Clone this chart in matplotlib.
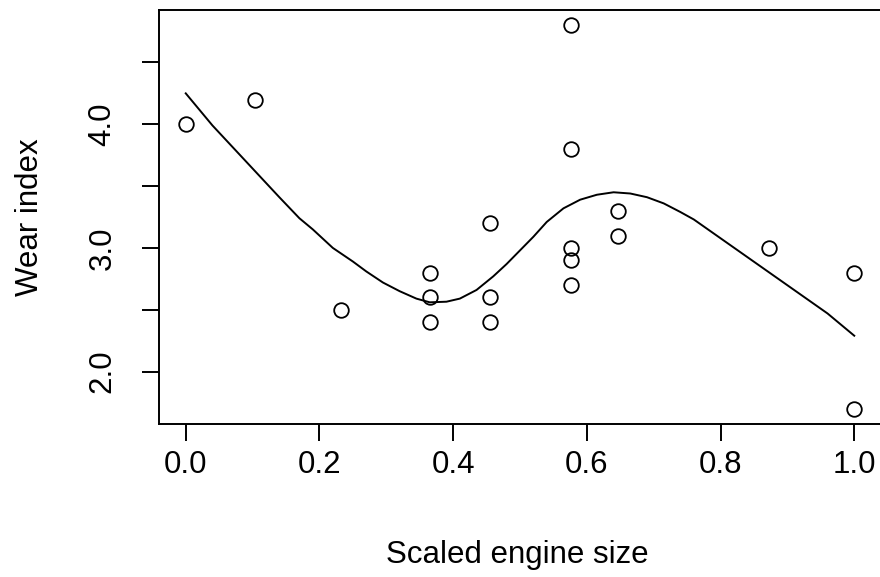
import numpy as np
import matplotlib
matplotlib.use("Agg")
import matplotlib.pyplot as plt

plt.rcParams['font.family'] = ['Liberation Sans', 'DejaVu Sans']

# engine wear observations
engine_size = [0.0, 0.103, 0.232, 0.366, 0.366, 0.366, 0.455, 0.455, 0.455,
               0.577, 0.577, 0.577, 0.577, 0.577, 0.647, 0.647, 0.872, 1.0, 1.0]
wear = [4.0, 4.2, 2.5, 2.8, 2.6, 2.4, 3.2, 2.6, 2.4,
        4.8, 3.8, 3.0, 2.9, 2.7, 3.3, 3.1, 3.0, 2.8, 1.7]

# smooth fitted curve
fit_x = [0.0, 0.04, 0.09, 0.14, 0.17, 0.19, 0.22, 0.25, 0.27, 0.295, 0.32,
         0.345, 0.365, 0.39, 0.41, 0.435, 0.46, 0.48, 0.50, 0.52, 0.54, 0.565,
         0.59, 0.615, 0.64, 0.665, 0.69, 0.715, 0.74, 0.76, 0.81, 0.86, 0.91,
         0.96, 1.0]
fit_y = [4.25, 3.99, 3.70, 3.41, 3.24, 3.15, 3.00, 2.89, 2.81, 2.72, 2.65,
         2.59, 2.56, 2.565, 2.59, 2.66, 2.77, 2.87, 2.98, 3.09, 3.21, 3.32,
         3.39, 3.43, 3.45, 3.44, 3.41, 3.36, 3.29, 3.23, 3.04, 2.85, 2.66,
         2.47, 2.29]

yticks = [2.0, 2.5, 3.0, 3.5, 4.0, 4.5]
ylabels = ['2.0', '', '3.0', '', '4.0', '']
xticks = [0.0, 0.2, 0.4, 0.6, 0.8, 1.0]

fig = plt.figure(figsize=(8.8, 5.77), dpi=100)
ax = fig.add_axes([159/880, 1-424/577, 722/880, 414/577])

ax.plot(fit_x, fit_y, color='black', lw=1.4)
ax.plot(engine_size, wear, 'o', mfc='none', mec='black', ms=10.5, mew=1.3)

ax.set_xlim(-0.04, 1.04)
ax.set_ylim(1.576, 4.924)
ax.set_xticks(xticks)
ax.set_xticklabels(['%.1f' % t for t in xticks])
ax.set_yticks(yticks)
ax.set_yticklabels(ylabels, rotation=90, va='center')
ax.tick_params(length=12, width=1.4, labelsize=22.5)
ax.tick_params(axis='x', pad=7)
ax.tick_params(axis='y', pad=18)
for s in ax.spines.values():
    s.set_linewidth(1.4)

fig.text(517/880, 1-555/577, 'Scaled engine size', ha='center', va='center', fontsize=22.5)
fig.text(30/880, 1-217/577, 'Wear index', ha='center', va='center', rotation=90, fontsize=22.5)

fig.savefig('out.png', dpi=100)
